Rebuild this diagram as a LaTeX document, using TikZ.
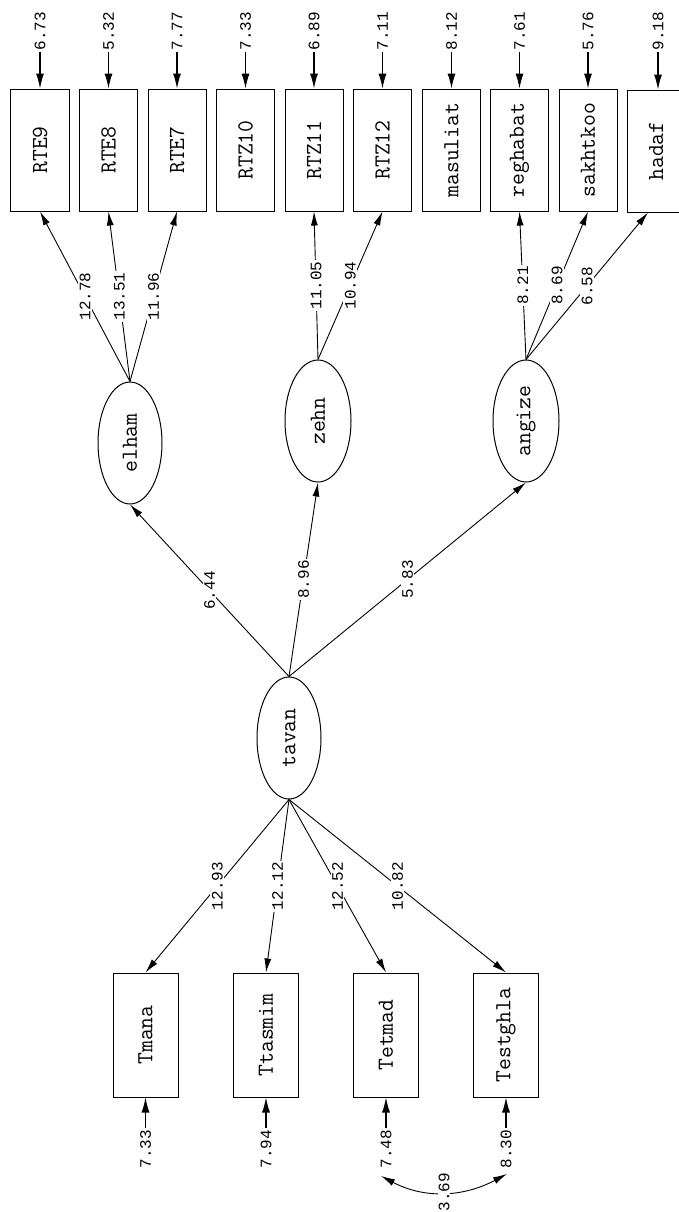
\documentclass[tikz,border=0pt]{standalone}
\usepackage{fontspec}
\setmainfont{Liberation Mono}
\usetikzlibrary{arrows.meta,shapes.geometric}
\newcommand{\myrot}[1]{\rotatebox{90}{#1}}
\begin{document}
\begin{tikzpicture}[x=1bp,y=-1bp,
  obs/.style={draw,line width=1bp,minimum width=58bp,minimum height=122bp,inner sep=0pt,font=\ttfamily\fontsize{23bp}{26bp}\selectfont},
  obsb/.style={obs,minimum width=65bp,minimum height=124bp},
  lat/.style={draw,ellipse,line width=1bp,minimum width=64bp,minimum height=122bp,inner sep=0pt,font=\ttfamily\fontsize{23bp}{26bp}\selectfont},
  num/.style={fill=white,inner sep=1.5bp,font=\fontsize{16bp}{18bp}\selectfont},
  arr/.style={-{Latex[length=14bp,width=7bp]},line width=0.9bp},
  earr/.style={-{Latex[length=15bp,width=8bp]},line width=1.1bp},
  carr/.style={{Latex[length=14bp,width=7bp]}-{Latex[length=14bp,width=7bp]},line width=0.9bp}
]
\clip (0,0) rectangle (679,1212);
\fill[white] (0,0) rectangle (679,1212);
% top observed
\node[obs] (RTE9) at (40,150) {\myrot{RTE9}};
\node[obs] (RTE8) at (108.5,150) {\myrot{RTE8}};
\node[obs] (RTE7) at (177,150) {\myrot{RTE7}};
\node[obs] (RTZ10) at (245.5,150) {\myrot{RTZ10}};
\node[obs] (RTZ11) at (314,150) {\myrot{RTZ11}};
\node[obs] (RTZ12) at (382.5,150) {\myrot{RTZ12}};
\node[obs] (masuliat) at (451.5,150) {\myrot{masuliat}};
\node[obs] (reghabat) at (519.5,150) {\myrot{reghabat}};
\node[obs] (sakhtkoo) at (588,150) {\myrot{sakhtkoo}};
\node[obs] (hadaf) at (656,151) {\myrot{hadaf}};
% top error labels
\foreach \n/\x/\v in {RTE9/40/6.73,RTE8/108.5/5.32,RTE7/177/7.77,RTZ10/245.5/7.33,RTZ11/314/6.89,RTZ12/382.5/7.11,masuliat/451.5/8.12,reghabat/519.5/7.61,sakhtkoo/588/5.76,hadaf/658/9.18}{
  \node[num] (e\n) at (\x,31) {\myrot{\v}};
  \draw[earr] (e\n) -- (\n.north -| e\n);
}
% latent
\node[lat] (elham) at (130,443) {\myrot{elham}};
\node[lat,minimum width=66bp] (zehn) at (318,421) {\myrot{zehn}};
\node[lat,minimum width=66bp] (angize) at (526,421) {\myrot{angize}};
\node[lat] (tavan) at (289,738) {\myrot{tavan}};
% bottom observed
\node[obsb] (Tmana) at (145.5,1035) {\myrot{Tmana}};
\node[obsb] (Ttasmim) at (266,1035) {\myrot{Ttasmim}};
\node[obsb] (Tetmad) at (386,1035) {\myrot{Tetmad}};
\node[obsb] (Testghla) at (506,1035) {\myrot{Testghla}};
% bottom error labels
\node[num] (bTmana) at (145.5,1149) {\myrot{7.33}};
\node[num] (bTtasmim) at (266,1149) {\myrot{7.94}};
\node[num] (bTetmad) at (386,1149) {\myrot{7.48}};
\node[num] (bTestghla) at (506,1149) {\myrot{8.30}};
\foreach \n in {Tmana,Ttasmim,Tetmad,Testghla}{
  \draw[earr] (b\n) -- (\n.south);
}
% loadings
\draw[arr] (elham.north) -- node[num]{\myrot{12.78}} (RTE9.south);
\draw[arr] (elham.north) -- node[num]{\myrot{13.51}} (RTE8.south);
\draw[arr] (elham.north) -- node[num]{\myrot{11.96}} (RTE7.south);
\draw[arr] (zehn.north) -- node[num]{\myrot{11.05}} (RTZ11.south);
\draw[arr] (zehn.north) -- node[num]{\myrot{10.94}} (RTZ12.south);
\draw[arr] (angize.north) -- node[num]{\myrot{8.21}} (reghabat.south);
\draw[arr] (angize.north) -- node[num]{\myrot{8.69}} (sakhtkoo.south);
\draw[arr] (angize.north) -- node[num]{\myrot{6.58}} ([xshift=-8bp]hadaf.south);
\draw[arr] (tavan.north) -- node[num]{\myrot{6.44}} (elham.south);
\draw[arr] (tavan.north) -- node[num]{\myrot{8.96}} (zehn.south);
\draw[arr] (tavan.north) -- node[num]{\myrot{5.83}} (angize.south);
\draw[arr] (tavan.south) -- node[num]{\myrot{12.93}} (Tmana.north);
\draw[arr] (tavan.south) -- node[num]{\myrot{12.12}} (Ttasmim.north);
\draw[arr] (tavan.south) -- node[num]{\myrot{12.52}} (Tetmad.north);
\draw[arr] (tavan.south) -- node[num]{\myrot{10.82}} (Testghla.north);
% covariance
\draw[carr] ([xshift=-5bp,yshift=-6bp]bTetmad.south) to[out=-28,in=-152] node[num,inner sep=0.5bp]{\myrot{3.69}} ([xshift=1bp,yshift=-4bp]bTestghla.south);
\end{tikzpicture}
\end{document}
